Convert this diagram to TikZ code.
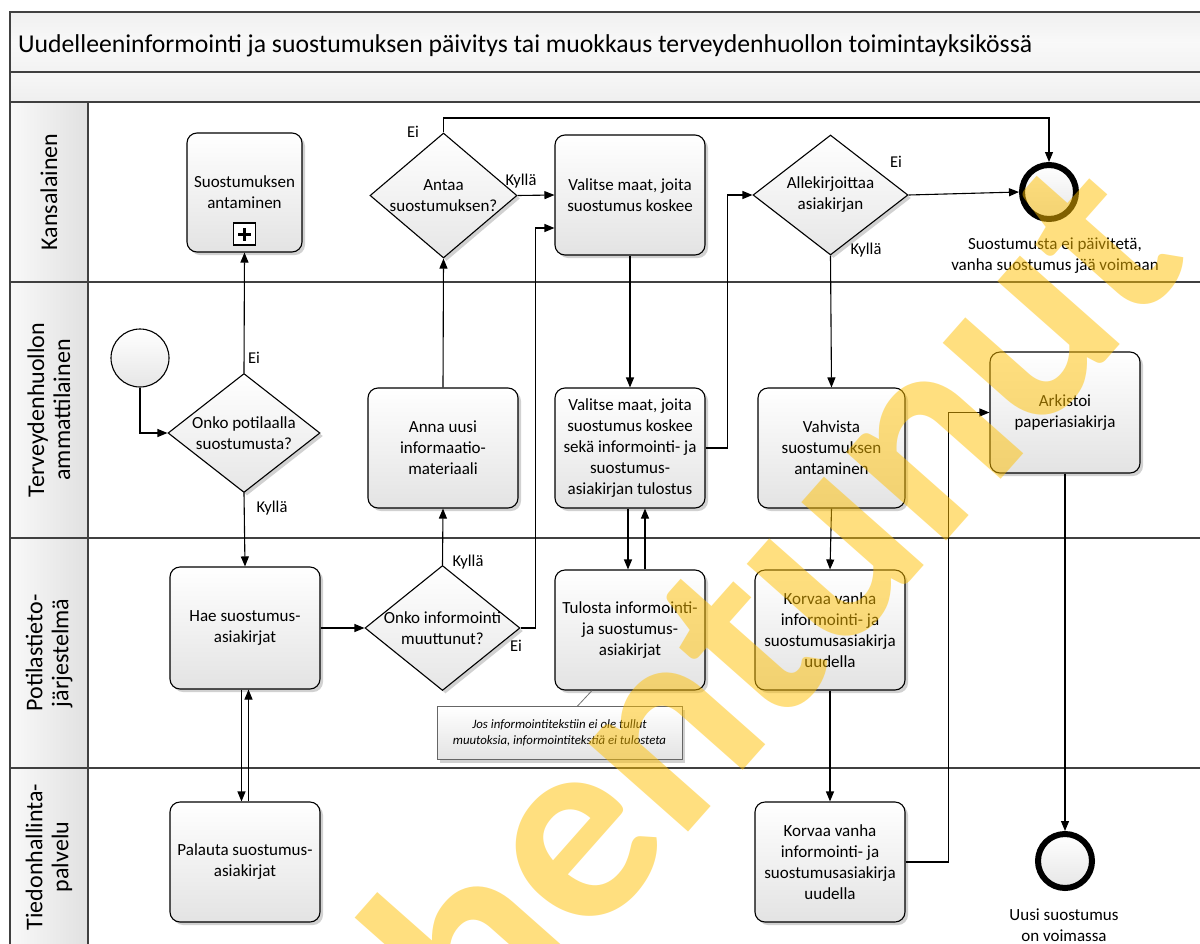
\documentclass[tikz,border=0pt]{standalone}
\usepackage{fontspec}
\setmainfont{Carlito}
\usetikzlibrary{shapes.geometric,arrows.meta,shadows}
\definecolor{lanegray}{HTML}{404040}
\definecolor{boxbot}{HTML}{E3E3E3}
\definecolor{gwbot}{HTML}{E6E6E6}
\definecolor{bandgray}{HTML}{EFEFEF}
\definecolor{wmyellow}{HTML}{FFC000}
\tikzset{
  shad/.style={drop shadow={shadow xshift=3pt,shadow yshift=-3pt,opacity=0.18,fill=black}},
  task/.style={draw=black, line width=1.1pt, rounded corners=10pt, top color=white, bottom color=boxbot,
    minimum width=150pt, minimum height=120pt, inner sep=2pt, align=center,
    font=\fontsize{17}{21}\selectfont, shad},
  gw/.style={diamond, draw=black, line width=1.1pt, top color=white, bottom color=gwbot,
    inner sep=0pt, minimum width=150pt, minimum height=124pt, shad},
  gwtext/.style={align=center, font=\fontsize{17}{21}\selectfont, inner sep=0pt},
  endev/.style={circle, draw=black, line width=6pt, minimum size=54pt, inner sep=0pt,
    top color=white, bottom color=gwbot},
  startev/.style={circle, draw=black, line width=1.1pt, minimum size=58pt, inner sep=0pt,
    top color=white, bottom color=gwbot},
  flow/.style={line width=1.1pt, -{Triangle[length=10pt,width=8pt]}},
  elabel/.style={font=\fontsize{16.5}{19}\selectfont, inner sep=0pt},
  lanelabel/.style={rotate=90, align=center, font=\fontsize{24}{26}\selectfont, inner sep=0pt},
  lane/.style={draw=lanegray, line width=1.5pt},
}
\begin{document}
\begin{tikzpicture}[x=1pt,y=-1pt]
\useasboundingbox (0,0) rectangle (1200,943);
\clip (0,0) rectangle (1200,943);
% pool background
\fill[white] (0,0) rectangle (1200,943);
\shade[top color=bandgray, bottom color=bandgray!80, middle color=white!60!bandgray] (10,12) rectangle (1215,72);
\shade[top color=white!50!bandgray, bottom color=bandgray] (10,72) rectangle (1215,102);
\shade[left color=white!60!bandgray, right color=bandgray!90!black!60!bandgray] (10,102) rectangle (88,960);
\draw[lane] (10,12) rectangle (1215,960);
\draw[lane] (10,72) -- (1215,72);
\draw[lane] (10,102) -- (1215,102);
\draw[lane] (10,282) -- (1215,282);
\draw[lane] (10,538) -- (1215,538);
\draw[lane] (10,768) -- (1215,768);
\draw[lane] (88,102) -- (88,960);
% title and lane labels
\node[anchor=base west, font=\fontsize{25.7}{28}\selectfont, inner sep=0pt] (title) at (18,52)
  {Uudelleeninformointi ja suostumuksen päivitys tai muokkaus terveydenhuollon toimintayksikössä};
\node[lanelabel] (lane1) at (49,192) {Kansalainen};
\node[lanelabel] (lane2) at (49,410) {Terveydenhuollon\\ammattilainen};
\node[lanelabel] (lane3) at (49,653) {Potilastieto-\\järjestelmä};
\node[lanelabel] (lane4) at (49,857) {Tiedonhallinta-\\palvelu};
% Kansalainen
\node[task, minimum width=115pt, minimum height=119pt] (sub) at (244.5,192.5) {Suostumuksen\\antaminen};
\node[draw, line width=1.3pt, minimum size=22pt, inner sep=0pt, fill=white] (subm) at (244.5,234) {};
\draw[line width=3pt] ([xshift=-6.5pt]subm.center) -- ([xshift=6.5pt]subm.center);
\draw[line width=3pt] ([yshift=-6.5pt]subm.center) -- ([yshift=6.5pt]subm.center);
\node[gw, minimum width=147pt, minimum height=125pt] (g1) at (443.5,195.5) {};
\node[gwtext] (g1t) at (g1) {Antaa\\suostumuksen?};
\node[task] (valK) at (630,195) {Valitse maat, joita\\suostumus koskee};
\node[gw, minimum width=155pt, minimum height=120pt] (g3) at (830.5,195) {};
\node[gwtext] (g3t) at (g3) {Allekirjoittaa\\asiakirjan};
\node[endev] (endK) at (1049,192) {};
\node[align=center, font=\fontsize{17}{21}\selectfont] (endKl) at (1055,256) {Suostumusta ei päivitetä,\\vanha suostumus jää voimaan};
% Terveydenhuollon ammattilainen
\node[startev] (start) at (140,358) {};
\node[gw, minimum width=152pt, minimum height=119pt] (g0) at (244,433) {};
\node[gwtext] (g0t) at (g0) {Onko potilaalla\\suostumusta?};
\node[task] (anna) at (443,448) {Anna uusi\\informaatio-\\materiaali};
\node[task] (valT) at (630,448) {Valitse maat, joita\\suostumus koskee\\sekä informointi- ja\\suostumus-\\asiakirjan tulostus};
\node[task, minimum width=147pt] (vah) at (831.5,448) {Vahvista\\suostumuksen\\antaminen};
\node[task, minimum height=121pt] (ark) at (1065,412.5) {Arkistoi\\paperiasiakirja};
% Potilastietojarjestelma
\node[task, minimum height=122pt] (hae) at (245,628) {Hae suostumus-\\asiakirjat};
\node[gw, minimum width=155pt, minimum height=125pt] (g2) at (442.5,628) {};
\node[gwtext] (g2t) at (g2) {Onko informointi\\muuttunut?};
\node[task] (tul) at (630,630) {Tulosta informointi-\\ja suostumus-\\asiakirjat};
\node[task] (korP) at (830,630) {Korvaa vanha\\informointi- ja\\suostumusasiakirja\\uudella};
\node[draw=black!60, line width=0.9pt, top color=white, bottom color=boxbot, minimum width=245pt, minimum height=53pt,
  align=center, inner sep=0pt, font=\itshape\fontsize{12.8}{15.5}\selectfont, shad] (note) at (559.5,733)
  {Jos informointitekstiin ei ole tullut\\muutoksia, informointitekstiä ei tulosteta};
\draw[black!55, line width=0.8pt] ([xshift=-38pt]tul.south) -- ([xshift=18pt]note.north);
% Tiedonhallintapalvelu
\node[task] (pal) at (245,862) {Palauta suostumus-\\asiakirjat};
\node[task] (korT) at (830,862) {Korvaa vanha\\informointi- ja\\suostumusasiakirja\\uudella};
\node[endev] (endT) at (1065,861) {};
\node[align=center, font=\fontsize{17}{21}\selectfont] (endTl) at (1064,925) {Uusi suostumus\\on voimassa};
% connectors
\coordinate (topy) at (0,118);
\draw[flow] (start.south) |- (g0.west);
\draw[flow] (g0.north) -- (sub.south);
\draw[flow] (g0.south) -- (hae.north);
\draw[flow] (hae.east) -- (g2.west);
\draw[flow] ([xshift=-3.5pt]hae.south) -- ([xshift=-3.5pt]pal.north);
\draw[flow] ([xshift=3.5pt]pal.north) -- ([xshift=3.5pt]hae.south);
\draw[flow] (g2.north) -- (anna.south);
\draw[flow] (g2.east) -- ++(15,0) |- ([yshift=-33pt]valK.west);
\draw[flow] (anna.north) -- (g1.south);
\draw[flow] (g1.east) -- (valK.west);
\draw[flow] (g1.north) -- (g1.north |- topy) -| (endK.north);
\draw[flow] (valK.south) -- (valT.north);
\draw[flow] (valT.east) -- ++(22,0) |- (g3.west);
\draw[flow] (g3.east) -- (endK.west);
\draw[flow] (g3.south) -- (vah.north);
\draw[flow] ([xshift=-2pt]valT.south) -- ([xshift=-2pt]tul.north);
\draw[flow] ([xshift=15pt]tul.north) -- ([xshift=15pt]valT.south);
\draw[flow] (vah.south) -- (korP.north);
\draw[flow] (korP.south) -- (korT.north);
\draw[flow] (korT.east) -- ++(43,0) |- (ark.west);
\draw[flow] (ark.south) -- (endT.north);
% edge labels
\node[elabel] (e1) at (413,132) {Ei};
\node[elabel] (e2) at (521,181) {Kyllä};
\node[elabel] (e3) at (896,162) {Ei};
\node[elabel] (e4) at (866,250) {Kyllä};
\node[elabel] (e5) at (254,358) {Ei};
\node[elabel] (e6) at (272,508) {Kyllä};
\node[elabel] (e7) at (468,562) {Kyllä};
\node[elabel] (e8) at (516,646) {Ei};
% watermark (anchored at the baseline of its letter e)
\node[rotate=48.5, anchor=base, text=wmyellow, opacity=0.5, font=\bfseries\fontsize{275}{275}\selectfont, inner sep=0pt] (wm) at (632,896) {\llap{Vanh}e\rlap{ntunut}};
\end{tikzpicture}
\end{document}
